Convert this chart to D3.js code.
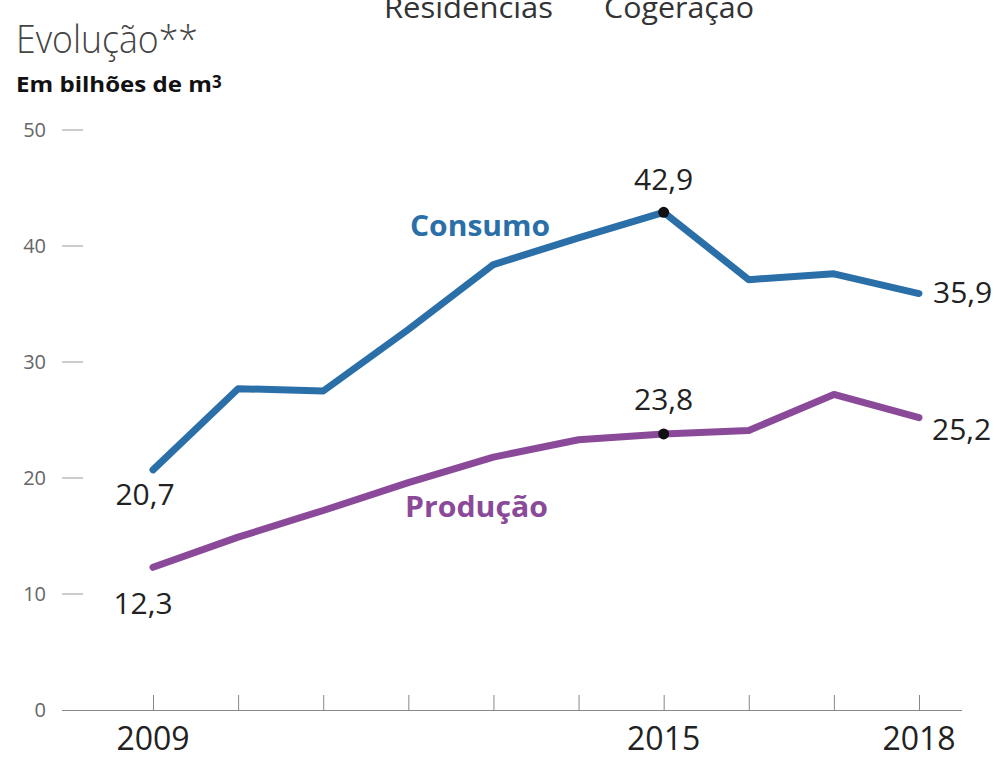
<!DOCTYPE html>
<html>
<head>
<meta charset="utf-8">
<script src="https://cdn.jsdelivr.net/npm/d3@7"></script>
<style>
  body { margin: 0; background: #fff; }
  svg { display: block; font-family: 'Open Sans', sans-serif; }
</style>
</head>
<body>
<svg id="chart" width="997" height="761"></svg>
<script>
// DATA
const years = [2009, 2010, 2011, 2012, 2013, 2014, 2015, 2016, 2017, 2018];
const consumo = [20.7, 27.7, 27.5, 32.8, 38.4, 40.7, 42.9, 37.1, 37.6, 35.9];
const producao = [12.3, 14.9, 17.2, 19.6, 21.8, 23.3, 23.8, 24.1, 27.2, 25.2];
const yTicks = [0, 10, 20, 30, 40, 50];
const xLabels = [2009, 2015, 2018];

const blue = '#2b6fa8', purple = '#8b4a99';

// SETUP
const svg = d3.select('#chart');
const x = d3.scaleLinear().domain([2009, 2018]).range([153, 919]);
const y = d3.scaleLinear().domain([0, 50]).range([710, 130]);

// HEADER
svg.append('text').attr('x', 384).attr('y', 18)
  .attr('font-size', 30).attr('fill', '#333')
  .attr('textLength', 169).attr('lengthAdjust', 'spacingAndGlyphs')
  .text('Residências');
svg.append('text').attr('x', 604).attr('y', 18)
  .attr('font-size', 30).attr('fill', '#333')
  .attr('textLength', 150).attr('lengthAdjust', 'spacingAndGlyphs')
  .text('Cogeração');
svg.append('text').attr('x', 16).attr('y', 53)
  .attr('font-size', 38).attr('font-weight', 300).attr('fill', '#444')
  .attr('textLength', 182).attr('lengthAdjust', 'spacingAndGlyphs')
  .text('Evolução**');
const unit = svg.append('text').attr('x', 16).attr('y', 92)
  .attr('font-size', 21).attr('font-weight', 700).attr('fill', '#111');
unit.append('tspan').attr('textLength', 196).attr('lengthAdjust', 'spacingAndGlyphs')
  .text('Em bilhões de m');
unit.append('tspan').attr('dy', -4).attr('font-size', 17).text('3');

// Y AXIS (ticks as dashes)
const gy = svg.append('g');
gy.selectAll('line').data(yTicks.filter(d => d > 0)).enter().append('line')
  .attr('x1', 62).attr('x2', 83)
  .attr('y1', d => y(d)).attr('y2', d => y(d))
  .attr('stroke', '#999').attr('stroke-width', 1);
gy.selectAll('text').data(yTicks).enter().append('text')
  .attr('x', 46).attr('y', d => y(d) + 7)
  .attr('text-anchor', 'end').attr('font-size', 20).attr('fill', '#666')
  .text(d => d);

// X AXIS
const gx = svg.append('g').attr('transform', 'translate(0,710)');
gx.call(d3.axisBottom(x).tickValues(years).tickSize(-15).tickFormat(''));
gx.select('.domain').attr('d', 'M62,0.5H962').attr('stroke', '#888');
gx.selectAll('.tick line').attr('stroke', '#888');
svg.selectAll('.xlab').data(xLabels).enter().append('text')
  .attr('class', 'xlab')
  .attr('x', d => x(d)).attr('y', 750)
  .attr('text-anchor', 'middle').attr('font-size', 32).attr('fill', '#222')
  .text(d => d);

// LINES
const line = d3.line().x((d, i) => x(years[i])).y(d => y(d));
svg.append('path').datum(consumo).attr('d', line)
  .attr('fill', 'none').attr('stroke', blue).attr('stroke-width', 7)
  .attr('stroke-linejoin', 'round').attr('stroke-linecap', 'round');
svg.append('path').datum(producao).attr('d', line)
  .attr('fill', 'none').attr('stroke', purple).attr('stroke-width', 7)
  .attr('stroke-linejoin', 'round').attr('stroke-linecap', 'round');

// DOTS at 2015
const i15 = years.indexOf(2015);
[consumo, producao].forEach(s => {
  svg.append('circle').attr('cx', x(2015)).attr('cy', y(s[i15]))
    .attr('r', 5.5).attr('fill', '#111');
});

// VALUE LABELS
const fmt = v => String(v).replace('.', ',');
const last = years.length - 1;
const labels = [
  { t: fmt(consumo[0]), x: x(years[0]) - 8, y: y(consumo[0]) + 35, a: 'middle' },
  { t: fmt(producao[0]), x: x(years[0]) - 10, y: y(producao[0]) + 47, a: 'middle' },
  { t: fmt(consumo[i15]), x: x(2015), y: y(consumo[i15]) - 22, a: 'middle' },
  { t: fmt(producao[i15]), x: x(2015), y: y(producao[i15]) - 24, a: 'middle' },
  { t: fmt(consumo[last]), x: x(years[last]) + 14, y: y(consumo[last]) + 9, a: 'start' },
  { t: fmt(producao[last]), x: x(years[last]) + 13, y: y(producao[last]) + 22, a: 'start' }
];
svg.selectAll('.val').data(labels).enter().append('text')
  .attr('class', 'val')
  .attr('x', d => d.x).attr('y', d => d.y)
  .attr('text-anchor', d => d.a).attr('font-size', 30).attr('fill', '#222')
  .text(d => d.t);

// SERIES NAMES
svg.append('text').attr('x', 410).attr('y', 236)
  .attr('font-size', 28).attr('font-weight', 700).attr('fill', blue)
  .attr('textLength', 140).attr('lengthAdjust', 'spacingAndGlyphs')
  .text('Consumo');
svg.append('text').attr('x', 405).attr('y', 517)
  .attr('font-size', 28).attr('font-weight', 700).attr('fill', purple)
  .attr('textLength', 143).attr('lengthAdjust', 'spacingAndGlyphs')
  .text('Produção');
</script>
</body>
</html>
